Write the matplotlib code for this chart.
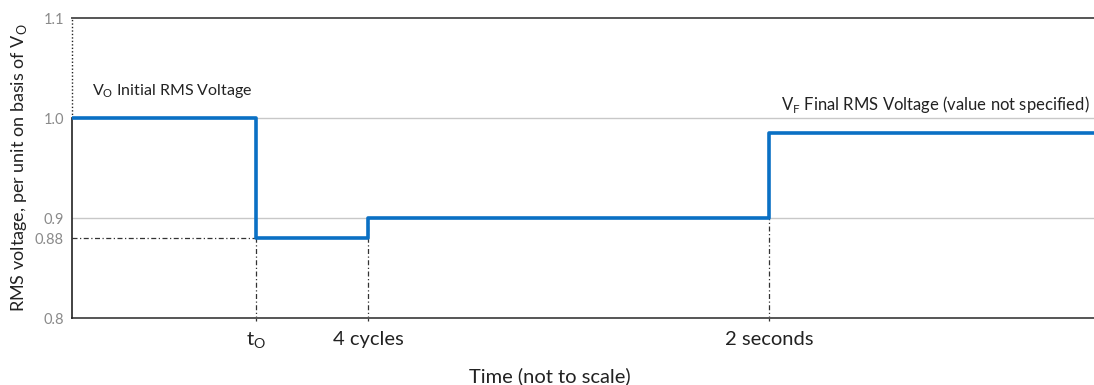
import matplotlib
matplotlib.use("Agg")
import matplotlib.pyplot as plt

plt.rcParams['font.family'] = ['Lato', 'DejaVu Sans']

# time axis is not to scale, positions are just for layout
event_times = [0, 1.84, 2.96, 6.97, 10.22]
event_labels = ['t$_\\mathregular{O}$', '4 cycles', '2 seconds']
volts = [1.0, 0.88, 0.90, 0.985]
ytick_vals = [0.8, 0.88, 0.9, 1.0, 1.1]
ytick_labels = ['0.8', '0.88', '0.9', '1.0', '1.1']

blue = '#0a70c4'

fig = plt.figure(figsize=(10.94, 3.85), dpi=100)
ax = fig.add_axes([0.066, 0.174, 0.934, 0.779])

ax.set_xlim(event_times[0], event_times[-1])
ax.set_ylim(0.8, 1.1)

# grid lines
for g in [0.9, 1.0]:
    ax.axhline(g, color='#c8c8c8', lw=1, zorder=1)

# dash-dot guides
ax.plot([event_times[0], event_times[1]], [volts[1], volts[1]], color='#333333',
        lw=0.9, ls=(0, (4, 2, 1, 2)), zorder=2)
for t, v in zip(event_times[1:4], volts[1:4]):
    ax.plot([t, t], [0.797, min(v, 0.9)], color='#333333', lw=0.9,
            ls=(0, (4, 2, 1, 2)), zorder=2, clip_on=False)

# step curve
xs = event_times
ys = volts + [volts[-1]]
ax.step(xs, ys, where='post', color=blue, lw=2.6, zorder=3)

# spines
for s in ['left', 'right', 'top', 'bottom']:
    ax.spines[s].set_visible(False)
ax.axhline(0.8, color='#555555', lw=1.4, zorder=2, clip_on=False)
ax.axhline(1.1, color='#555555', lw=1.4, zorder=2, clip_on=False)
ax.plot([0, 0], [0.8, 1.0], color='#222222', lw=1.2, clip_on=False, zorder=2)
ax.plot([0, 0], [1.0, 1.1], color='#222222', lw=1.0, ls=(0, (1, 1.5)),
        clip_on=False, zorder=2)

ax.set_yticks(ytick_vals)
ax.set_yticklabels(ytick_labels, color='#8a8a8a', fontsize=10.5)
ax.set_xticks(event_times[1:4])
ax.set_xticklabels(event_labels, color='#222222', fontsize=14.5)
ax.tick_params(axis='both', length=0)
ax.tick_params(axis='x', pad=9)
ax.tick_params(axis='y', pad=6)

ax.set_xlabel('Time (not to scale)', fontsize=14.5, color='#222222')
ax.xaxis.set_label_coords(0.467, -0.165)
ax.set_ylabel('RMS voltage, per unit on basis of V$_\\mathregular{O}$', fontsize=13,
              color='#222222', labelpad=4)

ax.text(0.2, 1.018, 'V$_\\mathregular{O}$ Initial RMS Voltage', fontsize=11.5,
        color='#222222', va='bottom')
ax.text(7.09, 1.003, 'V$_\\mathregular{F}$ Final RMS Voltage (value not specified)',
        fontsize=12, color='#222222', va='bottom')

fig.savefig('out.png', dpi=100)
